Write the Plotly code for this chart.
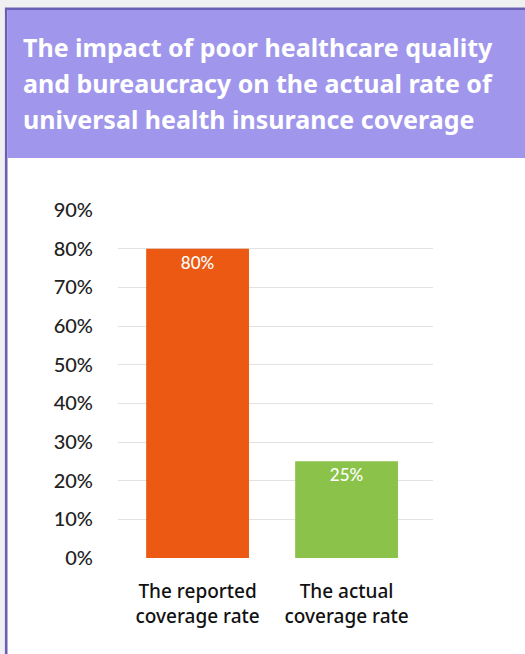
import plotly.graph_objects as go

W, H = 525, 654

categories = ["The reported<br>coverage rate", "The actual<br>coverage rate"]
values = [0.80, 0.25]
bar_colors = ["#eb5912", "#8bc34a"]
y_ticks = [0, 0.1, 0.2, 0.3, 0.4, 0.5, 0.6, 0.7, 0.8, 0.9]
y_tick_labels = ["0%", "10%", "20%", "30%", "40%", "50%", "60%", "70%", "80%", "90%"]
title_lines = [
    "The impact of poor healthcare quality",
    "and bureaucracy on the actual rate of",
    "universal health insurance coverage",
]

def px_x(p):
    return p / W

def px_y(p):
    return 1 - p / H

x_pos = list(range(len(categories)))

fig = go.Figure(go.Bar(
    x=x_pos,
    y=values,
    width=0.69,
    marker=dict(color=bar_colors, line=dict(width=0)),
    text=[f"{v:.0%}" for v in values],
    textposition="inside",
    insidetextanchor="end",
    textangle=0,
    constraintext="none",
    textfont=dict(family="Lato", size=17, color="white", weight=500),
    cliponaxis=False,
    hoverinfo="skip",
))

# title lines, one annotation each so the line pitch can be set exactly
title_annotations = [
    dict(text=line, xref="paper", yref="paper",
         x=px_x(21), y=px_y(28 + 36 * i), xanchor="left", yanchor="top",
         align="left", showarrow=False,
         font=dict(family="Noto Sans", size=25, color="white", weight="bold"))
    for i, line in enumerate(title_lines)
]

fig.update_layout(
    width=W, height=H,
    margin=dict(l=0, r=0, t=0, b=0, pad=0, autoexpand=False),
    paper_bgcolor="#f0f0f2",
    plot_bgcolor="rgba(0,0,0,0)",
    showlegend=False,
    xaxis=dict(
        domain=[px_x(118), px_x(433)],
        range=[-0.534, 1.58],
        tickvals=x_pos,
        ticktext=categories,
        automargin=False,
        showgrid=False, zeroline=False, showline=False,
        ticks="", ticklabelstandoff=20,
        tickfont=dict(family="Noto Sans", size=19, color="#111111", weight=500),
    ),
    yaxis=dict(
        domain=[px_y(558), px_y(210)],
        range=[0, 0.9],
        tickvals=y_ticks,
        ticktext=y_tick_labels,
        automargin=False,
        showgrid=True, gridcolor="#e2e2e2", gridwidth=1,
        zeroline=False, showline=False, ticks="",
        ticklabelstandoff=24,
        tickfont=dict(family="Lato", size=20, color="#222222", weight=500),
    ),
    shapes=[
        dict(type="rect", xref="paper", yref="paper", layer="below",
             x0=px_x(6.2), x1=1.02, y0=-0.02, y1=px_y(8.7),
             fillcolor="white", line=dict(color="#6b5fb5", width=2.6)),
        dict(type="rect", xref="paper", yref="paper", layer="below",
             x0=px_x(7.5), x1=1.02, y0=px_y(158), y1=px_y(10),
             fillcolor="#a097ec", line=dict(width=0)),
    ],
    annotations=title_annotations,
)

fig.write_html("out.html")
